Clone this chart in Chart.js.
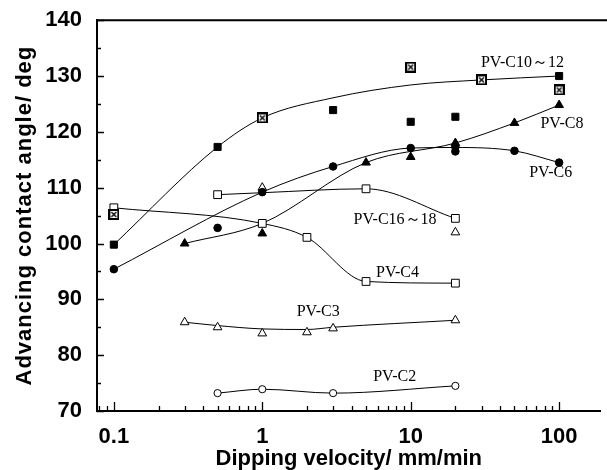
<!DOCTYPE html>
<html lang="en">
<head>
    <meta charset="UTF-8">
    <title>Advancing contact angle vs dipping velocity</title>
    <script src="https://cdn.jsdelivr.net/npm/chart.js"></script>
    <style>
        body { margin: 0; background: #fff; }
        #chart { display: block; }
    </style>
</head>
<body>
<canvas id="chart" width="607" height="470"></canvas>
<script>
    // axis ticks
    const xTicks = [0.1, 1, 10, 100];
    const yTicks = [70, 80, 90, 100, 110, 120, 130, 140];

    // PV-C10~12 (filled squares, boxed crosses, fitted curve)
    const c1012SolidX = [0.1, 0.5, 3, 10, 20, 100];
    const c1012SolidY = [99.8, 117.3, 123.9, 121.8, 122.7, 130.0];
    const c1012CrossX = [0.1, 1, 10, 30, 100];
    const c1012CrossY = [105.2, 122.5, 131.6, 129.3, 127.5];
    const c1012CurveX = [0.1, 0.5, 1, 3, 10, 30, 100];
    const c1012CurveY = [99.8, 117.3, 122.5, 126.1, 128.4, 129.3, 130.0];

    // PV-C8 (filled triangles)
    const c8X = [0.3, 1, 5, 10, 20, 50, 100];
    const c8Y = [100.0, 101.8, 114.5, 115.5, 118.0, 121.6, 124.8];
    const c8CurveX = [0.3, 1, 5, 20, 50, 100];
    const c8CurveY = [100.0, 103.6, 114.5, 118.0, 121.6, 124.8];

    // PV-C6 (filled circles)
    const c6X = [0.1, 0.5, 1, 3, 10, 20, 20, 50, 100];
    const c6Y = [95.4, 102.8, 109.2, 113.8, 117.1, 117.3, 116.5, 116.6, 114.5];
    const c6CurveX = [0.1, 1, 3, 10, 20, 50, 100];
    const c6CurveY = [95.4, 109.2, 113.8, 117.1, 117.2, 116.6, 114.5];

    // PV-C16~18 (open squares, open triangles)
    const c1618X = [0.5, 5, 20];
    const c1618Y = [108.75, 109.8, 104.5];
    const c1618TriX = [1, 20];
    const c1618TriY = [110.0, 102.0];
    const c1618CurveX = [0.5, 1, 5, 20];
    const c1618CurveY = [108.75, 109.1, 109.8, 104.5];

    // PV-C4 (open squares)
    const c4X = [0.1, 1, 2, 5, 20];
    const c4Y = [106.4, 103.6, 101.1, 93.2, 92.9];

    // PV-C3 (open triangles)
    const c3X = [0.3, 0.5, 1, 2, 3, 20];
    const c3Y = [85.9, 85.0, 83.9, 84.1, 84.8, 86.25];
    const c3CurveX = [0.3, 0.5, 1, 2, 3, 20];
    const c3CurveY = [85.9, 85.3, 84.7, 84.6, 85.0, 86.25];

    // PV-C2 (open circles)
    const c2X = [0.5, 1, 3, 20];
    const c2Y = [73.2, 73.9, 73.2, 74.5];

    const pts = (xs, ys) => xs.map((x, i) => ({x: x, y: ys[i]}));

    // boxed cross marker
    function boxCross() {
        const c = document.createElement('canvas');
        c.width = 11; c.height = 11;
        const g = c.getContext('2d');
        g.fillStyle = '#fff';
        g.fillRect(1, 1, 9, 9);
        g.strokeStyle = '#000';
        g.lineWidth = 2;
        g.strokeRect(1, 1, 9, 9);
        g.lineWidth = 1.4;
        g.beginPath();
        g.moveTo(3, 3); g.lineTo(8, 8);
        g.moveTo(8, 3); g.lineTo(3, 8);
        g.stroke();
        return c;
    }

    function curve(xs, ys) {
        return {
            data: pts(xs, ys), showLine: true, pointRadius: 0,
            borderColor: '#000', borderWidth: 1, cubicInterpolationMode: 'monotone',
            order: 2
        };
    }
    function marks(xs, ys, style, r, filled) {
        return {
            data: pts(xs, ys), showLine: false, pointStyle: style, pointRadius: r,
            backgroundColor: filled ? '#000' : '#fff', borderColor: '#000', borderWidth: 1,
            order: 1
        };
    }

    const axisFont = {family: '"Liberation Sans", Arial, sans-serif', size: 22, weight: 'bold'};

    // a bit of letter spacing on the y title only
    const spacingPlugin = {
        id: 'spacing',
        beforeDraw(chart) {
            const s = chart.scales.y;
            if (s._spaced) return;
            const orig = s.drawTitle;
            s.drawTitle = function () {
                this.ctx.save();
                this.ctx.letterSpacing = '1px';
                orig.call(this);
                this.ctx.restore();
            };
            s._spaced = true;
        }
    };

    // inward tick marks, top frame line and curve labels
    const framePlugin = {
        id: 'frame',
        afterDatasetsDraw(chart) {
            const ctx = chart.ctx;
            const a = chart.chartArea;
            const xs = chart.scales.x, ys = chart.scales.y;
            ctx.save();
            ctx.strokeStyle = '#000';
            ctx.lineWidth = 2;
            ctx.beginPath();
            ctx.moveTo(a.left - 1, a.top);
            ctx.lineTo(chart.width, a.top);
            ctx.stroke();

            ctx.lineWidth = 1.3;
            ctx.beginPath();
            for (let v = 70; v <= 140; v += 5) {
                const py = Math.round(ys.getPixelForValue(v)) + 0.5;
                ctx.moveTo(a.left, py);
                ctx.lineTo(a.left + (v % 10 === 0 ? 7 : 4), py);
            }
            [0.01, 0.1, 1, 10, 100].forEach(d => {
                for (let k = 1; k < 10; k++) {
                    const v = d * k;
                    if (v < xs.min || v > xs.max) continue;
                    const px = Math.round(xs.getPixelForValue(v)) + 0.5;
                    ctx.moveTo(px, a.bottom);
                    ctx.lineTo(px, a.bottom - (k === 1 ? 9 : 5));
                }
            });
            ctx.stroke();

            ctx.fillStyle = '#000';
            ctx.font = '16px "Liberation Serif", "Times New Roman", serif';
            ctx.textAlign = 'center';
            ctx.textBaseline = 'middle';
            chart.options.plugins.frame.labels.forEach(l => {
                ctx.fillText(l.text, xs.getPixelForValue(l.x), ys.getPixelForValue(l.y));
            });
            ctx.restore();
        }
    };

    new Chart(document.getElementById('chart'), {
        type: 'scatter',
        data: {
            datasets: [
                curve(c1012CurveX, c1012CurveY),
                curve(c8CurveX, c8CurveY),
                curve(c6CurveX, c6CurveY),
                curve(c1618CurveX, c1618CurveY),
                curve(c4X, c4Y),
                curve(c3CurveX, c3CurveY),
                curve(c2X, c2Y),
                marks(c1012SolidX, c1012SolidY, 'rect', 5, true),
                marks(c1012CrossX, c1012CrossY, boxCross(), 5, false),
                marks(c8X, c8Y, 'triangle', 5, true),
                marks(c6X, c6Y, 'circle', 3.8, true),
                marks(c1618X, c1618Y, 'rect', 5.5, false),
                marks(c1618TriX, c1618TriY, 'triangle', 5, false),
                marks(c4X, c4Y, 'rect', 5.5, false),
                marks(c3X, c3Y, 'triangle', 5, false),
                marks(c2X, c2Y, 'circle', 3.6, false)
            ]
        },
        options: {
            responsive: false,
            animation: false,
            devicePixelRatio: 1,
            layout: {padding: {top: 19, right: 0, left: 0, bottom: 0}},
            plugins: {
                legend: {display: false},
                tooltip: {enabled: false},
                frame: {
                    labels: [
                        {text: 'PV-C10～12', x: 56.6, y: 132.3},
                        {text: 'PV-C8', x: 104.5, y: 121.4},
                        {text: 'PV-C6', x: 87.7, y: 112.6},
                        {text: 'PV-C16～18', x: 7.85, y: 104.3},
                        {text: 'PV-C4', x: 8.15, y: 94.7},
                        {text: 'PV-C3', x: 2.38, y: 87.8},
                        {text: 'PV-C2', x: 7.8, y: 76.1}
                    ]
                }
            },
            scales: {
                x: {
                    type: 'logarithmic',
                    min: 0.077,
                    max: 190,
                    grid: {display: false},
                    border: {display: true, color: '#000', width: 2},
                    afterBuildTicks: s => { s.ticks = xTicks.map(v => ({value: v})); },
                    afterFit: s => { s.height = 59; },
                    ticks: {
                        color: '#000', font: axisFont, padding: 5,
                        maxRotation: 0, autoSkip: false,
                        callback: v => String(v)
                    },
                    title: {
                        display: true, text: 'Dipping velocity/ mm/min', color: '#000',
                        font: Object.assign({}, axisFont, {lineHeight: 1}),
                        padding: {top: 0, bottom: 0}
                    }
                },
                y: {
                    min: 70,
                    max: 140,
                    grid: {display: false},
                    border: {display: true, color: '#000', width: 2},
                    afterBuildTicks: s => { s.ticks = yTicks.map(v => ({value: v})); },
                    afterFit: s => { s.width = 97; },
                    ticks: {color: '#000', font: axisFont, padding: 7},
                    title: {
                        display: true, text: 'Advancing contact angle/ deg', color: '#000',
                        font: Object.assign({}, axisFont, {lineHeight: 1}),
                        padding: {top: 14, bottom: 0}
                    }
                }
            }
        },
        plugins: [spacingPlugin, framePlugin]
    });
</script>
</body>
</html>
